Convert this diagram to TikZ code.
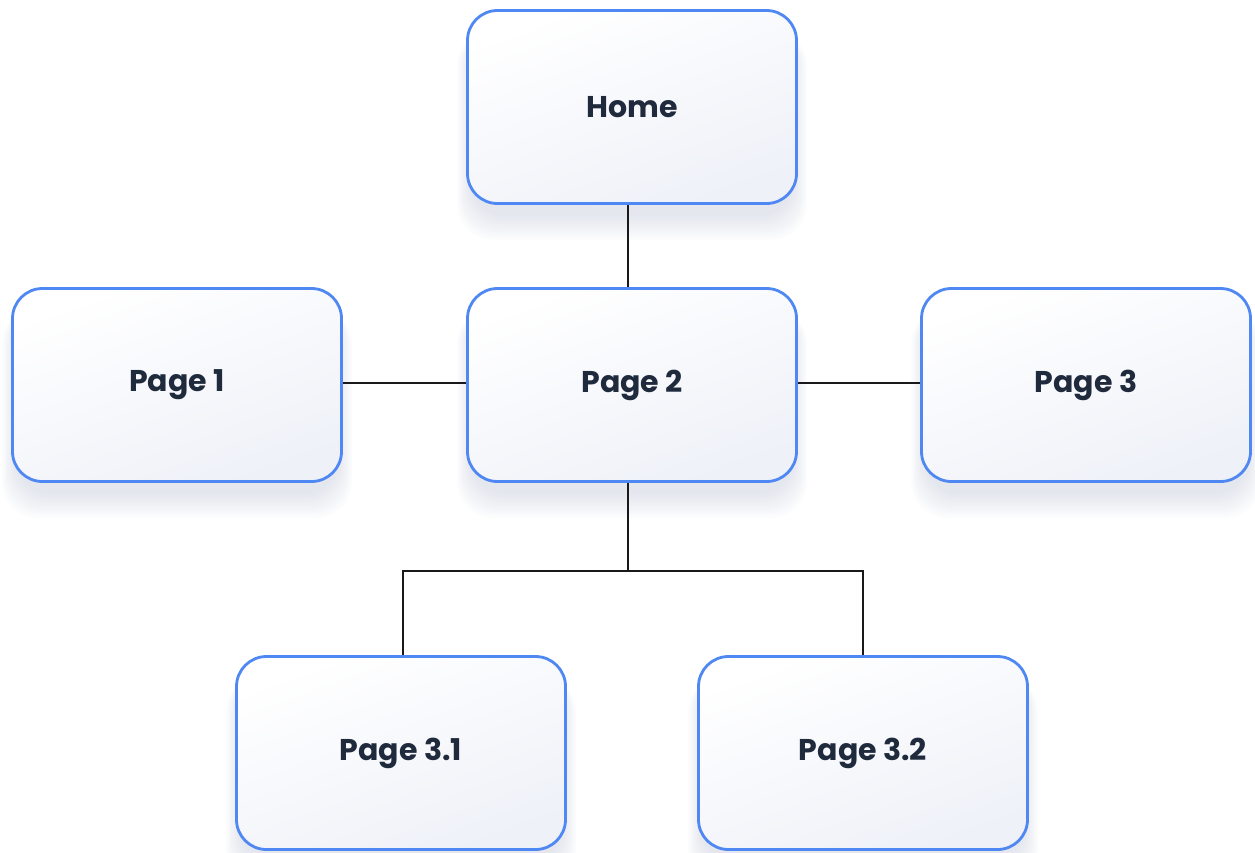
\documentclass[tikz,border=0pt]{standalone}
\usepackage{fontspec}
\setmainfont{Poppins}
\definecolor{boxblue}{HTML}{4F87F3}
\definecolor{txt}{HTML}{1F2A3C}
\definecolor{fillb}{HTML}{EEF1F8}
\definecolor{shad}{HTML}{7F8CB0}
\begin{document}
\begin{tikzpicture}[x=1pt,y=-1pt,
  pagebox/.style={draw=boxblue, line width=2.8pt, rounded corners=30pt,
    minimum width=329pt, minimum height=193pt, inner sep=0pt,
    top color=white, bottom color=fillb, shading angle=20,
    font=\fontsize{30}{34}\selectfont\bfseries, text=txt},
  link/.style={draw=black!90, line width=2.4pt}]
\useasboundingbox (0,0) rectangle (1255,852);
% soft shadows
\foreach \cx/\cy in {632/107,177/385,632/385,1086/385,401/753,863/753}{
  \foreach \i in {1,...,10}{
    \fill[shad, opacity=0.022, rounded corners=36pt]
      (\cx-160-\i*1.5, \cy-97+20) rectangle (\cx+160+\i*1.5, \cy+97+10+\i*2.6);
  }
}
\node[pagebox] (home) at (632,107) {Home};
\node[pagebox] (p1) at (177,385) {Page 1};
\node[pagebox] (p2) at (632,385) {Page 2};
\node[pagebox] (p3) at (1086,385) {Page 3};
\node[pagebox] (p31) at (401,753) {Page 3.1};
\node[pagebox] (p32) at (863,753) {Page 3.2};
\coordinate (j) at (628,571);
\draw[link] ([xshift=-4pt]home.south) -- ([xshift=-4pt]p2.north);
\draw[link] ([yshift=2pt]p1.east) -- ([yshift=2pt]p2.west);
\draw[link] ([yshift=2pt]p2.east) -- ([yshift=2pt]p3.west);
\draw[link] ([xshift=-4pt]p2.south) -- (j);
\draw[link] ([xshift=2pt]p31.north) |- (j) -| (p32.north);
\end{tikzpicture}
\end{document}
